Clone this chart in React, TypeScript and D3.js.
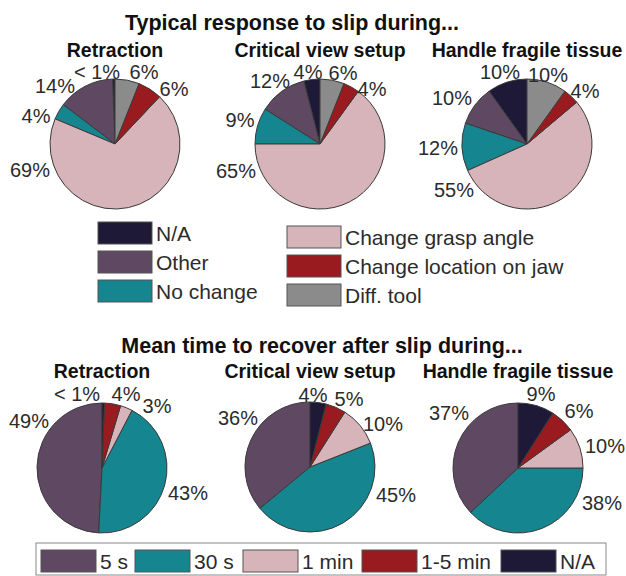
import React from "react";
import * as d3 from "d3";

// ---------- DATA ----------
const responseCategories = ["N/A", "Other", "No change", "Change grasp angle", "Change location on jaw", "Diff. tool"];
const responseTasks = ["Retraction", "Critical view setup", "Handle fragile tissue"];
const retractionResponse = [0.6, 14, 4, 69, 6, 6];
const criticalResponse = [4, 12, 9, 65, 4, 6];
const fragileResponse = [10, 10, 12, 55, 4, 10];
const retractionResponseLabels = ["< 1%", "14%", "4%", "69%", "6%", "6%"];
const criticalResponseLabels = ["4%", "12%", "9%", "65%", "4%", "6%"];
const fragileResponseLabels = ["10%", "10%", "12%", "55%", "4%", "10%"];

const timeCategories = ["5 s", "30 s", "1 min", "1-5 min", "N/A"];
const retractionTime = [49, 43, 3, 4, 0.6];
const criticalTime = [36, 45, 10, 5, 4];
const fragileTime = [37, 38, 10, 6, 9];
const retractionTimeLabels = ["49%", "43%", "3%", "4%", "< 1%"];
const criticalTimeLabels = ["36%", "45%", "10%", "5%", "4%"];
const fragileTimeLabels = ["37%", "38%", "10%", "6%", "9%"];

const titleTop = "Typical response to slip during...";
const titleBottom = "Mean time to recover after slip during...";

// ---------- STYLE / LAYOUT ----------
const C_NA = "#1d1936";
const C_OTHER = "#5f4861";
const C_TEAL = "#15858f";
const C_PINK = "#d7b4b9";
const C_RED = "#991b1f";
const C_GRAY = "#8b8b8b";
const responseColors = [C_NA, C_OTHER, C_TEAL, C_PINK, C_RED, C_GRAY];
const timeColors = [C_OTHER, C_TEAL, C_PINK, C_RED, C_NA];

const FONT = "'Liberation Sans', Arial, Helvetica, sans-serif";
const TEXT = "#2b2b2b";
const R = 65;
const topCenters = [[115, 144], [320, 144], [527, 144]];
const bottomCenters = [[102, 468], [310, 467], [518, 468]];

// label offsets from pie centre (text centre x, baseline y)
const topLabelOffsets = [
  [[-18, -65], [-60, -51], [-79, -21], [-85, 33], [59, -48], [29, -65]],
  [[-12, -65], [-50, -56], [-80, -17], [-84, 34], [52, -48], [23, -64]],
  [[-27, -65], [-75, -39], [-89, 11], [-73, 53], [58, -46], [21, -62]],
];
const bottomLabelOffsets = [
  [[-73, -40], [86, 32], [55, -55], [24, -67], [-25, -67]],
  [[-72, -42], [86, 35], [73, -36], [39, -61], [3, -65]],
  [[-69, -48], [84, 42], [87, -15], [61, -50], [23, -67]],
];

const pieGen = d3.pie<number>().sort(null).value((d) => d).startAngle(0).endAngle(-2 * Math.PI);
const arcGen = d3.arc<d3.PieArcDatum<number>>().innerRadius(0).outerRadius(R);

function Pie({ cx, cy, values, colors, labels, offsets }: any) {
  const arcs = pieGen(values);
  return (
    <g>
      <g transform={`translate(${cx},${cy})`}>
        {arcs.map((a, i) => (
          <path key={i} d={arcGen(a) || ""} fill={colors[i]} stroke="#3a3a3a" strokeWidth={1} strokeLinejoin="round" />
        ))}
      </g>
      {labels.map((l: string, i: number) => (
        <text key={i} x={cx + offsets[i][0]} y={cy + offsets[i][1]} textAnchor="middle" fontFamily={FONT} fontSize={20} fill={TEXT}>
          {l}
        </text>
      ))}
    </g>
  );
}

export default function App() {
  const topValues = [retractionResponse, criticalResponse, fragileResponse];
  const topLabels = [retractionResponseLabels, criticalResponseLabels, fragileResponseLabels];
  const botValues = [retractionTime, criticalTime, fragileTime];
  const botLabels = [retractionTimeLabels, criticalTimeLabels, fragileTimeLabels];

  const legendCols = [
    { x: 98, ys: [222, 251, 280], items: [0, 1, 2] },
    { x: 287, ys: [226, 255, 284], items: [3, 4, 5] },
  ];
  const bottomLegendX = [41, 135, 243, 362, 501];

  return (
    <svg width={626} height={576} style={{ position: "absolute", left: 0, top: 0, background: "#fff" }}>
      <rect width={626} height={576} fill="#fff" />
      <text x={292} y={30} textAnchor="middle" fontFamily={FONT} fontWeight="bold" fontSize={21.5} fill="#111">
        {titleTop}
      </text>
      {responseTasks.map((t, i) => (
        <text key={i} x={topCenters[i][0]} y={57} textAnchor="middle" fontFamily={FONT} fontWeight="bold" fontSize={19.5} fill="#111">
          {t}
        </text>
      ))}
      {topCenters.map((c, i) => (
        <Pie key={i} cx={c[0]} cy={c[1]} values={topValues[i]} colors={responseColors} labels={topLabels[i]} offsets={topLabelOffsets[i]} />
      ))}

      {legendCols.map((col, ci) => (
        <g key={ci}>
          {col.items.map((k, j) => (
            <g key={k}>
              <rect x={col.x} y={col.ys[j]} width={54} height={22} fill={responseColors[k]} stroke="#555" strokeWidth={1} />
              <text x={col.x + 58} y={col.ys[j] + 18.5} fontFamily={FONT} fontSize={21} fill={TEXT}>
                {responseCategories[k]}
              </text>
            </g>
          ))}
        </g>
      ))}

      <text x={322} y={353} textAnchor="middle" fontFamily={FONT} fontWeight="bold" fontSize={21.5} fill="#111">
        {titleBottom}
      </text>
      {responseTasks.map((t, i) => (
        <text key={i} x={bottomCenters[i][0]} y={378} textAnchor="middle" fontFamily={FONT} fontWeight="bold" fontSize={19.5} fill="#111">
          {t}
        </text>
      ))}
      {bottomCenters.map((c, i) => (
        <Pie key={i} cx={c[0]} cy={c[1]} values={botValues[i]} colors={timeColors} labels={botLabels[i]} offsets={bottomLabelOffsets[i]} />
      ))}

      <rect x={36} y={543} width={570} height={32} fill="#fff" stroke="#888" strokeWidth={1} />
      {timeCategories.map((c, i) => (
        <g key={i}>
          <rect x={bottomLegendX[i]} y={550} width={55} height={22} fill={timeColors[i]} stroke="#555" strokeWidth={1} />
          <text x={bottomLegendX[i] + 59} y={568.5} fontFamily={FONT} fontSize={21} fill={TEXT}>
            {c}
          </text>
        </g>
      ))}
    </svg>
  );
}
